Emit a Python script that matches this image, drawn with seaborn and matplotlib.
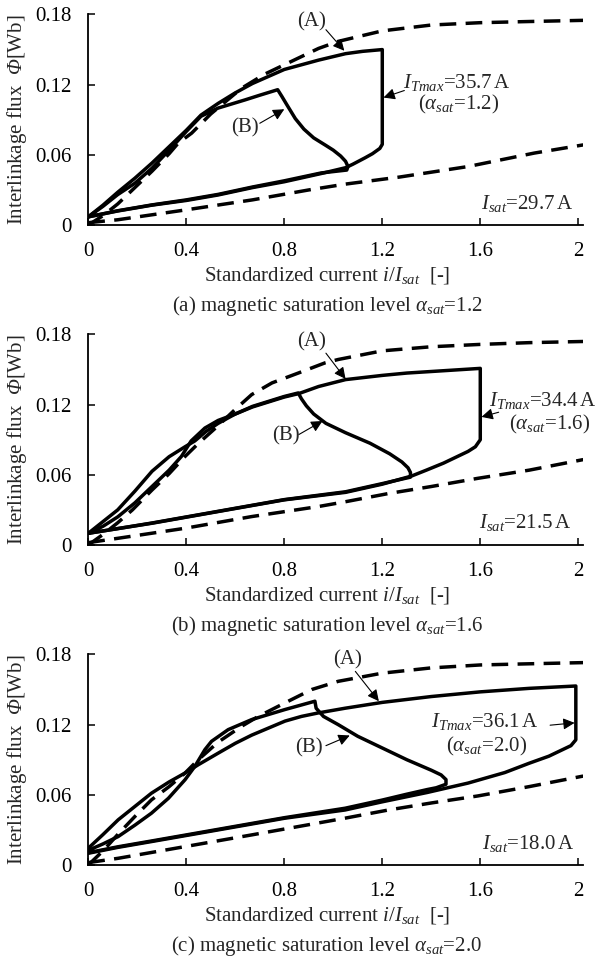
import matplotlib
matplotlib.use("Agg")
import matplotlib.pyplot as plt
import seaborn as sns

# ---- panel (a) alpha_sat = 1.2 ----
a_dash_up_x = [0, 0.06, 0.12, 0.19, 0.26, 0.33, 0.367, 0.422, 0.5, 0.626, 0.72, 0.82, 0.94, 1.02, 1.2, 1.4, 1.6, 1.8, 2.02]
a_dash_up_y = [0, 0.008, 0.018, 0.032, 0.046, 0.061, 0.070, 0.0786, 0.095, 0.117, 0.129, 0.139, 0.151, 0.157, 0.166, 0.171, 0.173, 0.174, 0.175]
a_dash_lo_x = [0, 0.12, 0.4, 0.67, 0.9, 1.05, 1.27, 1.55, 1.82, 2.02]
a_dash_lo_y = [0.002, 0.0045, 0.013, 0.0215, 0.030, 0.035, 0.041, 0.050, 0.0615, 0.0685]
a_loop_x = [0, 0.06, 0.12, 0.19, 0.26, 0.33, 0.40, 0.46, 0.53, 0.60, 0.67, 0.80, 0.94, 1.05, 1.12, 1.2,
            1.2, 1.19, 1.16, 1.13, 1.08, 1.05, 0.95, 0.80, 0.67, 0.53, 0.40, 0.26, 0.12, 0]
a_loop_y = [0.007, 0.017, 0.028, 0.040, 0.053, 0.067, 0.081, 0.094, 0.104, 0.113, 0.121, 0.133, 0.141, 0.1465, 0.1485, 0.150,
            0.069, 0.0655, 0.061, 0.0575, 0.052, 0.049, 0.044, 0.037, 0.032, 0.0257, 0.021, 0.017, 0.012, 0.007]
a_b_x = [0, 0.06, 0.12, 0.19, 0.26, 0.33, 0.40, 0.46, 0.53, 0.64, 0.70, 0.773,
         0.79, 0.81, 0.845, 0.88, 0.92, 0.97, 1.0, 1.03, 1.05, 1.06, 1.055,
         0.95, 0.80, 0.67, 0.53, 0.40, 0.26, 0.12, 0]
a_b_y = [0.007, 0.016, 0.026, 0.0357, 0.0486, 0.064, 0.080, 0.093, 0.100, 0.107, 0.111, 0.1157,
         0.110, 0.103, 0.091, 0.082, 0.0745, 0.068, 0.064, 0.059, 0.0545, 0.050, 0.047,
         0.0445, 0.0378, 0.0325, 0.0262, 0.0215, 0.0172, 0.0122, 0.007]

# ---- panel (b) alpha_sat = 1.6 ----
b_dash_up_x = [0, 0.06, 0.12, 0.18, 0.26, 0.33, 0.395, 0.45, 0.53, 0.60, 0.667, 0.75, 0.857, 0.966, 1.02, 1.2, 1.4, 1.6, 1.8, 2.02]
b_dash_up_y = [0, 0.009, 0.019, 0.030, 0.047, 0.061, 0.0757, 0.087, 0.102, 0.116, 0.1286, 0.1386, 0.147, 0.1557, 0.1586, 0.166, 0.1695, 0.1715, 0.173, 0.174]
b_dash_lo_x = [0, 0.12, 0.395, 0.667, 0.94, 1.05, 1.225, 1.4, 1.59, 1.8, 2.02]
b_dash_lo_y = [0.002, 0.0057, 0.0143, 0.0243, 0.0329, 0.037, 0.044, 0.050, 0.057, 0.064, 0.073]
b_loop_x = [0, 0.06, 0.12, 0.19, 0.26, 0.33, 0.395, 0.435, 0.48, 0.53, 0.60, 0.67, 0.80, 0.86, 0.94, 1.05, 1.2, 1.3, 1.45, 1.6,
            1.6, 1.58, 1.55, 1.51, 1.45, 1.38, 1.32, 1.2, 1.05, 0.80, 0.53, 0.26, 0.12, 0]
b_loop_y = [0.010, 0.020, 0.030, 0.046, 0.063, 0.0755, 0.084, 0.089, 0.097, 0.104, 0.112, 0.118, 0.1265, 0.1295, 0.1355, 0.1414, 0.145, 0.147, 0.149, 0.151,
            0.090, 0.084, 0.080, 0.076, 0.070, 0.064, 0.059, 0.052, 0.045, 0.0386, 0.0286, 0.0186, 0.014, 0.010]
b_b_x = [0, 0.06, 0.12, 0.19, 0.26, 0.33, 0.38, 0.42, 0.476, 0.53, 0.60, 0.67, 0.80, 0.857,
         0.87, 0.89, 0.92, 0.97, 1.05, 1.15, 1.23, 1.28, 1.305, 1.315, 1.315,
         1.2, 1.05, 0.80, 0.53, 0.26, 0.12, 0]
b_b_y = [0.010, 0.016, 0.024, 0.036, 0.050, 0.064, 0.0757, 0.089, 0.100, 0.1065, 0.112, 0.1185, 0.127, 0.130,
         0.125, 0.119, 0.112, 0.104, 0.096, 0.087, 0.078, 0.071, 0.066, 0.062, 0.058,
         0.0525, 0.0455, 0.0388, 0.0288, 0.0188, 0.014, 0.010]

# ---- panel (c) alpha_sat = 2.0 ----
c_dash_up_x = [0, 0.06, 0.12, 0.19, 0.258, 0.33, 0.395, 0.449, 0.53, 0.626, 0.694, 0.803, 0.912, 1.02, 1.2, 1.4, 1.6, 1.8, 2.02]
c_dash_up_y = [0, 0.012, 0.026, 0.0414, 0.0557, 0.067, 0.0786, 0.090, 0.105, 0.1186, 0.127, 0.1386, 0.150, 0.157, 0.164, 0.1685, 0.171, 0.172, 0.173]
c_dash_lo_x = [0, 0.122, 0.395, 0.667, 1.048, 1.225, 1.4, 1.59, 1.8, 2.02]
c_dash_lo_y = [0.002, 0.0057, 0.0157, 0.0257, 0.040, 0.047, 0.053, 0.059, 0.067, 0.076]
c_loop_x = [0, 0.06, 0.122, 0.19, 0.258, 0.33, 0.395, 0.449, 0.531, 0.60, 0.667, 0.735, 0.803, 0.87, 0.939, 1.048, 1.2, 1.4, 1.6, 1.8, 1.99,
            1.99, 1.97, 1.93, 1.88, 1.8, 1.7, 1.55, 1.384, 1.2, 1.048, 0.803, 0.531, 0.258, 0.12, 0]
c_loop_y = [0.0143, 0.026, 0.0386, 0.050, 0.0614, 0.071, 0.0786, 0.0857, 0.0957, 0.104, 0.111, 0.117, 0.123, 0.127, 0.130, 0.134, 0.139, 0.144, 0.148, 0.151, 0.153,
            0.107, 0.102, 0.098, 0.093, 0.087, 0.079, 0.070, 0.062, 0.054, 0.047, 0.040, 0.030, 0.020, 0.015, 0.010]
c_b_x = [0, 0.06, 0.122, 0.19, 0.258, 0.327, 0.395, 0.435, 0.476, 0.503, 0.571, 0.667, 0.803, 0.925,
         0.93, 0.96, 1.02, 1.1, 1.2, 1.3, 1.4, 1.44, 1.46, 1.46,
         1.42, 1.384, 1.3, 1.2, 1.048, 0.803, 0.531, 0.258, 0.12, 0]
c_b_y = [0.0125, 0.018, 0.0243, 0.034, 0.0443, 0.057, 0.0729, 0.0843, 0.0986, 0.1057, 0.1157, 0.1243, 0.1329, 0.140,
         0.134, 0.127, 0.120, 0.110, 0.100, 0.090, 0.081, 0.077, 0.073, 0.069,
         0.066, 0.0645, 0.0605, 0.0555, 0.0485, 0.0405, 0.0305, 0.0205, 0.0155, 0.0105]

x_ticks = [0, 0.4, 0.8, 1.2, 1.6, 2.0]
x_tick_labels = ["0", "0.4", "0.8", "1.2", "1.6", "2"]
y_ticks = [0, 0.06, 0.12, 0.18]
y_tick_labels = ["0", "0.06", "0.12", "0.18"]

panels = [
    dict(up=(a_dash_up_x, a_dash_up_y), lo=(a_dash_lo_x, a_dash_lo_y), loop=(a_loop_x, a_loop_y), b=(a_b_x, a_b_y),
         tmax="35.7", alpha="1.2", isat="29.7", tag="(a)",
         A_txt=(0.91, 0.174), A_tail=(0.97, 0.167), A_head=(1.045, 0.149),
         B_txt=(0.64, 0.083), B_tail=(0.70, 0.087), B_head=(0.80, 0.099),
         T_txt=(1.285, 0.122), al_txt=(1.51, 0.103), T_tail=(1.29, 0.115), T_head=(1.205, 0.109),
         S_txt=(1.98, 0.018)),
    dict(up=(b_dash_up_x, b_dash_up_y), lo=(b_dash_lo_x, b_dash_lo_y), loop=(b_loop_x, b_loop_y), b=(b_b_x, b_b_y),
         tmax="34.4", alpha="1.6", isat="21.5", tag="(b)",
         A_txt=(0.91, 0.174), A_tail=(0.97, 0.164), A_head=(1.05, 0.142),
         B_txt=(0.805, 0.093), B_tail=(0.86, 0.0945), B_head=(0.956, 0.106),
         T_txt=(1.635, 0.1235), al_txt=(1.885, 0.103), T_tail=(1.675, 0.1135), T_head=(1.605, 0.1095),
         S_txt=(1.97, 0.019)),
    dict(up=(c_dash_up_x, c_dash_up_y), lo=(c_dash_lo_x, c_dash_lo_y), loop=(c_loop_x, c_loop_y), b=(c_b_x, c_b_y),
         tmax="36.1", alpha="2.0", isat="18.0", tag="(c)",
         A_txt=(1.06, 0.1755), A_tail=(1.09, 0.1655), A_head=(1.186, 0.140),
         B_txt=(0.90, 0.100), B_tail=(0.97, 0.102), B_head=(1.067, 0.1107),
         T_txt=(1.40, 0.123), al_txt=(1.625, 0.1016), T_tail=(1.885, 0.1195), T_head=(1.985, 0.1215),
         S_txt=(1.985, 0.018)),
]

sns.set_theme(style="ticks")
plt.rcParams["font.family"] = ["Liberation Serif", "DejaVu Serif"]
plt.rcParams["mathtext.fontset"] = "custom"
plt.rcParams["mathtext.rm"] = "Liberation Serif"
plt.rcParams["mathtext.it"] = "Liberation Serif:italic"
plt.rcParams["mathtext.sf"] = "Liberation Serif:italic"
plt.rcParams["mathtext.bf"] = "Liberation Serif:bold"

FS = 15
LW = 2.5
fig = plt.figure(figsize=(6.14, 9.6), dpi=100)
bottoms = [0.7656, 0.4323, 0.0990]
arrow = dict(arrowstyle="-|>", color="black", lw=0.8, mutation_scale=17, shrinkA=0, shrinkB=0)

for p, bot in zip(panels, bottoms):
    ax = fig.add_axes([0.1438, bot, 0.806, 0.2193])
    for key in ("up", "lo"):
        xs, ys = p[key]
        sns.lineplot(x=xs, y=ys, sort=False, estimator=None, color="black", lw=LW, ax=ax)
        ax.lines[-1].set_dashes((4.8, 2.7))
    for key in ("loop", "b"):
        xs, ys = p[key]
        sns.lineplot(x=xs, y=ys, sort=False, estimator=None, color="black", lw=LW, ax=ax)

    ax.set_xlim(0, 2.02)
    ax.set_ylim(0, 0.18)
    ax.set_xticks(x_ticks)
    ax.set_xticklabels(x_tick_labels)
    ax.set_yticks(y_ticks)
    ax.set_yticklabels(y_tick_labels)
    ax.tick_params(axis="both", direction="in", length=5, width=1.1, labelsize=FS, colors="black")
    ax.tick_params(axis="x", pad=12)
    ax.tick_params(axis="y", pad=12)
    for side in ("top", "right"):
        ax.spines[side].set_visible(False)
    for side in ("left", "bottom"):
        ax.spines[side].set_linewidth(1.3)
        ax.spines[side].set_color("black")
    ax.set_xlabel("")
    ax.set_ylabel("")

    ax.text(-0.145, 0.5, "Interlinkage flux  $\\mathsf{\\Phi}$[Wb]", rotation=90, transform=ax.transAxes,
            ha="center", va="center", fontsize=FS)
    ax.text(0.482, -0.24, "Standardized current $i$/$I_{sat}$  [-]", transform=ax.transAxes,
            ha="center", va="center", fontsize=FS)
    ax.text(0.482, -0.385, p["tag"] + " magnetic saturation level $\\alpha_{sat}$=" + p["alpha"],
            transform=ax.transAxes, ha="center", va="center", fontsize=FS)

    ax.text(*p["A_txt"], "(A)", ha="center", va="center", fontsize=FS)
    ax.annotate("", xy=p["A_head"], xytext=p["A_tail"], arrowprops=arrow)
    ax.text(*p["B_txt"], "(B)", ha="center", va="center", fontsize=FS)
    ax.annotate("", xy=p["B_head"], xytext=p["B_tail"], arrowprops=arrow)
    ax.text(*p["T_txt"], "$I_{Tmax}$=" + p["tmax"] + "$\\,$A", ha="left", va="center", fontsize=FS)
    ax.text(*p["al_txt"], "($\\alpha_{sat}$=" + p["alpha"] + ")", ha="center", va="center", fontsize=FS)
    ax.annotate("", xy=p["T_head"], xytext=p["T_tail"], arrowprops=arrow)
    ax.text(*p["S_txt"], "$I_{sat}$=" + p["isat"] + "$\\,$A", ha="right", va="center", fontsize=FS)

fig.savefig("out.png", dpi=100)
